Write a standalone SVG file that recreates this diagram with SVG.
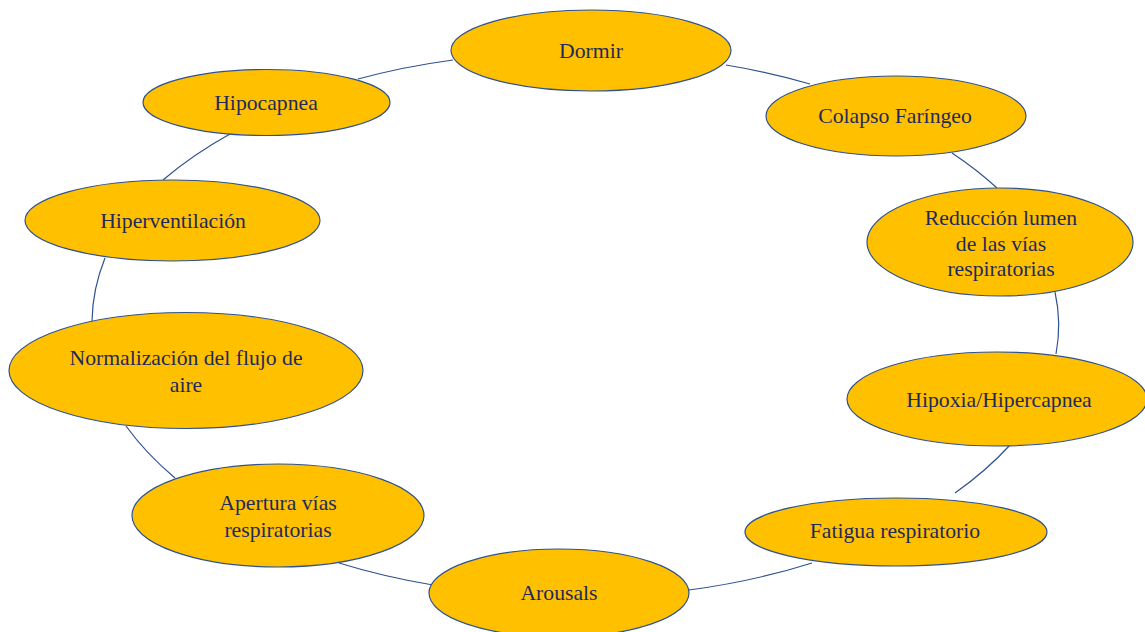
<svg xmlns="http://www.w3.org/2000/svg" width="1145" height="632" viewBox="0 0 1145 632">
<style>
.n ellipse{fill:#FFC000;stroke:#2F528F;stroke-width:1.2}
.n text{font-family:"Liberation Serif","Times New Roman",serif;font-size:21.7px;fill:#1F2A5C;text-anchor:middle}
.c path{fill:none;stroke:#2F528F;stroke-width:1.2}
</style>
<rect width="1145" height="632" fill="#fff"/>
<g id="connectors" class="c">
<path d="M358 79 A485 285 0 0 1 453 60"/>
<path d="M726 65 A485 285 0 0 1 810 84"/>
<path d="M952 153 A485 285 0 0 1 997 188"/>
<path d="M1055 292 A480 270 0 0 1 1056 354"/>
<path d="M1010 445 A485 285 0 0 1 955 493"/>
<path d="M812 563 A485 285 0 0 1 689 590"/>
<path d="M433 585 A485 285 0 0 1 339 563"/>
<path d="M175 478 A485 285 0 0 1 126 426"/>
<path d="M92 321 A485 285 0 0 1 105 258"/>
<path d="M163 180 A485 285 0 0 1 230 134"/>
</g>
<g id="dormir" class="n"><ellipse cx="591" cy="50.5" rx="140" ry="40.5"/><text x="591" y="58">Dormir</text></g>
<g id="colapso" class="n"><ellipse cx="896" cy="116" rx="130" ry="40"/><text x="895" y="123">Colapso Faríngeo</text></g>
<g id="reduccion" class="n"><ellipse cx="1000" cy="242" rx="133" ry="54"/><text x="1001" y="225">Reducción lumen</text><text x="1001" y="250.5">de las vías</text><text x="1001" y="276">respiratorias</text></g>
<g id="hipoxia" class="n"><ellipse cx="997" cy="399" rx="150" ry="47"/><text x="999" y="407">Hipoxia/Hipercapnea</text></g>
<g id="fatigua" class="n"><ellipse cx="896" cy="532" rx="151" ry="34"/><text x="895" y="538">Fatigua respiratorio</text></g>
<g id="arousals" class="n"><ellipse cx="559" cy="593" rx="130" ry="44"/><text x="559" y="600">Arousals</text></g>
<g id="apertura" class="n"><ellipse cx="278" cy="515.5" rx="146" ry="51.5"/><text x="278" y="510">Apertura vías</text><text x="278" y="537">respiratorias</text></g>
<g id="normalizacion" class="n"><ellipse cx="186" cy="370.5" rx="177" ry="58"/><text x="186" y="365">Normalización del flujo de</text><text x="186" y="392">aire</text></g>
<g id="hiperventilacion" class="n"><ellipse cx="172.5" cy="220.5" rx="147.5" ry="40.5"/><text x="173" y="228">Hiperventilación</text></g>
<g id="hipocapnea" class="n"><ellipse cx="266.5" cy="102.5" rx="123.5" ry="33"/><text x="266" y="110">Hipocapnea</text></g>
</svg>
